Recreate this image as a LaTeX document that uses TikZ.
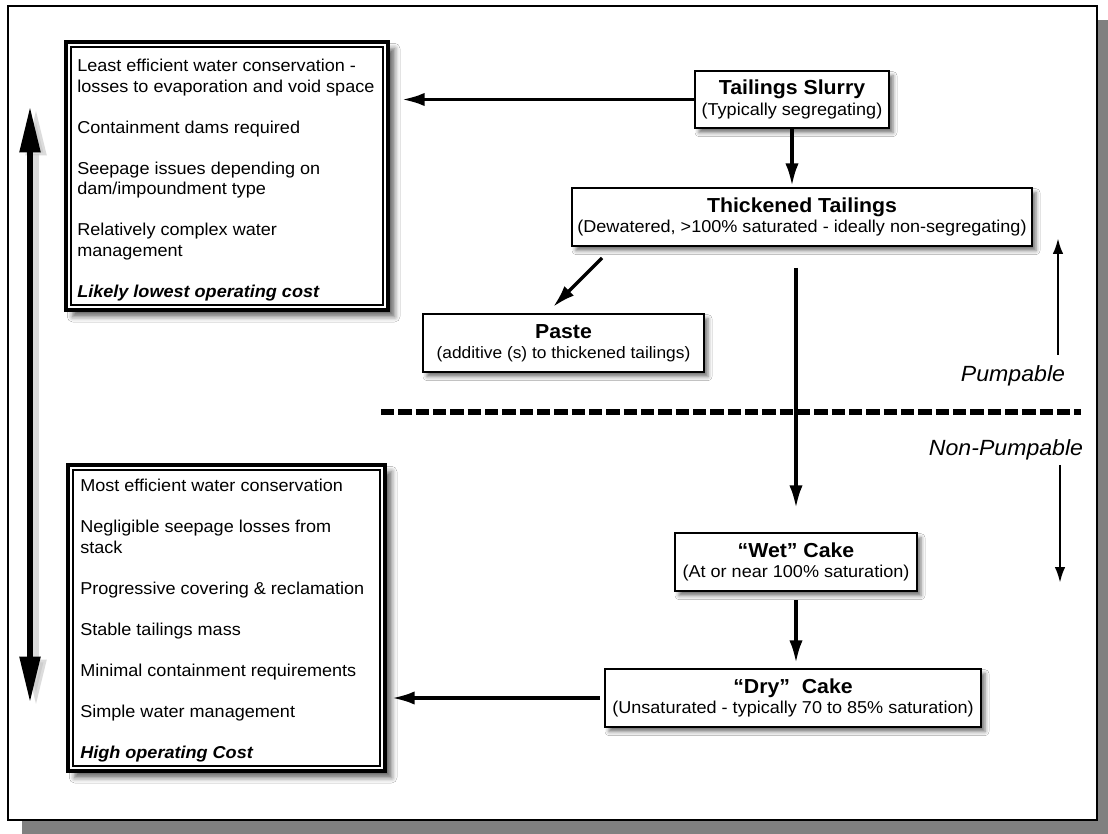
\documentclass[tikz,border=0pt]{standalone}
\usepackage{fontspec}
\setmainfont{Liberation Sans}[FakeStretch=1.05]
\usetikzlibrary{arrows.meta,shadows.blur,calc}
\newcommand\bodyfont{\fontsize{12.9}{15.375}\selectfont}
\newcommand\ttlfont{\bfseries\fontsize{15.2}{15.75}\selectfont}
\newcommand\lblfont{\itshape\fontsize{16.5}{18}\selectfont}
\tikzset{
  flowbox/.style={draw=black, line width=1.2pt, fill=white, inner sep=0pt, outer sep=0pt,
    align=center, font=\bodyfont,
    blur shadow={shadow xshift=3pt, shadow yshift=-3.5pt, shadow blur radius=3pt, shadow opacity=55}},
  bigbox/.style={draw=black, line width=2.6pt, fill=white, inner sep=0pt, outer sep=0pt,
    blur shadow={shadow xshift=5pt, shadow yshift=-5pt, shadow blur radius=4pt, shadow opacity=60}},
  innerline/.style={draw=black, line width=0.9pt},
  listtext/.style={font=\bodyfont, align=left, inner sep=0pt},
  lbltext/.style={font=\lblfont, inner sep=0pt},
  flowarrow/.style={line width=2.5pt, -{Latex[length=17pt,width=10pt]}},
  sidearrow/.style={line width=2pt, -{Latex[length=12pt,width=8pt]}},
  bigarrow/.style={line width=3.9pt, {Triangle[length=34pt,width=15pt]}-{Triangle[length=34pt,width=15pt]}},
  divider/.style={line width=4.5pt, dash pattern=on 10pt off 3pt}
}
\begin{document}
\begin{tikzpicture}[x=0.75pt,y=-0.75pt]
\useasboundingbox (0,0) rectangle (1108,834);
% frame and its shadow
\fill[gray] (22,20) rectangle (1108,834);
\draw[fill=white, line width=1.9pt] (8,6) rectangle (1097,820);

% left double arrow
\coordinate (lt) at (30,107);
\coordinate (lb) at (30,702);
\draw[bigarrow, draw=gray!45, fill=gray!45, opacity=.6] ($(lt)+(6,3)$) -- ($(lb)+(6,3)$);
\draw[bigarrow] (lt) -- (lb);

% big boxes
\node[bigbox, minimum width=241.5pt, minimum height=201pt] (tl) at (227,176) {};
\draw[innerline] ($(tl.north west)+(5,5)$) rectangle ($(tl.south east)+(-5,-5)$);
\node[listtext, anchor=north west] (tltext) at (77,57) {\strut Least efficient water conservation -\\
losses to evaporation and void space\\[15.375pt]
Containment dams required\\[15.375pt]
Seepage issues depending on\\
dam/impoundment type\\[15.375pt]
Relatively complex water\\
management\\[15.375pt]
\textbf{\textit{Likely lowest operating cost}}};

\node[bigbox, minimum width=237.75pt, minimum height=229.5pt] (bl) at (226.5,618) {};
\draw[innerline] ($(bl.north west)+(5,5)$) rectangle ($(bl.south east)+(-5,-5)$);
\node[listtext, anchor=north west] (bltext) at (80,477) {\strut Most efficient water conservation\\[15.375pt]
Negligible seepage losses from\\
stack\\[15.375pt]
Progressive covering \& reclamation\\[15.375pt]
Stable tailings mass\\[15.375pt]
Minimal containment requirements\\[15.375pt]
Simple water management\\[15.375pt]
\textbf{\textit{High operating Cost}}};

% flow boxes
\node[flowbox, minimum width=145.5pt, minimum height=42.75pt] (slurry) at (792,99.5)
  {{\ttlfont Tailings Slurry}\\(Typically segregating)};
\node[flowbox, minimum width=345pt, minimum height=43.5pt] (thick) at (802,217)
  {{\ttlfont Thickened Tailings}\\(Dewatered, >100\% saturated - ideally non-segregating)};
\node[flowbox, minimum width=210.75pt, minimum height=43.5pt] (paste) at (563.5,343)
  {{\ttlfont Paste}\\{\fontsize{12.4}{15.75}\selectfont (additive (s) to thickened tailings)}};
\node[flowbox, minimum width=181.5pt, minimum height=43.5pt] (wet) at (796,562)
  {{\ttlfont “Wet” Cake}\\(At or near 100\% saturation)};
\node[flowbox, minimum width=282pt, minimum height=43.5pt] (dry) at (793,698)
  {{\ttlfont “Dry”\ \ Cake}\\(Unsaturated - typically 70 to 85\% saturation)};

% flow arrows
\draw[flowarrow] (slurry.west) -- ($(slurry.west -| tl.east)+(14,0)$);
\draw[flowarrow] (slurry.south) -- ($(slurry.south |- thick.north)+(0,-2)$);
\draw[flowarrow] ($(thick.south west)+(30,12)$) -- ($(paste.north)+(-10.5,-7)$);
\draw[flowarrow] ($(wet.north |- thick.south)+(0,22)$) -- ($(wet.north)+(0,-25)$);
\draw[flowarrow] ($(wet.south)+(0,9)$) -- ($(wet.south |- dry.north)+(0,-6)$);
\draw[flowarrow] ($(dry.west)+(-5,0)$) -- ($(dry.west -| bl.east)+(7,0)$);

% pumpable divider
\coordinate (dl) at (381,412);
\coordinate (dr) at (1081,412);
\draw[divider] (dl) -- (dr);
\node[lbltext] (pump) at (1013,376) {Pumpable};
\node[lbltext] (npump) at (1006,450) {Non-Pumpable};
\coordinate (pu1) at (1058,355);
\coordinate (pu2) at (1058,238);
\draw[sidearrow] (pu1) -- (pu2);
\coordinate (pd1) at (1060,465);
\coordinate (pd2) at (1060,583);
\draw[sidearrow] (pd1) -- (pd2);
\end{tikzpicture}
\end{document}
